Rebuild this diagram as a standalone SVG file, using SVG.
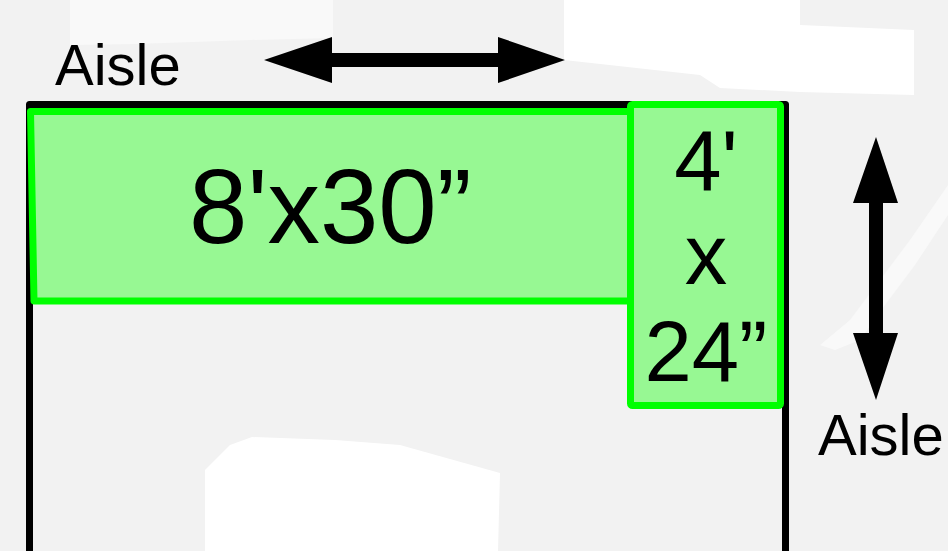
<svg xmlns="http://www.w3.org/2000/svg" width="948" height="551" viewBox="0 0 948 551">
<style>
.bg{fill:#f2f2f2}
.hl{fill:#ffffff}
.hl2{fill:#f9f9f9}
.wall{fill:none;stroke:#000;stroke-width:7;stroke-linejoin:round}
.table{fill:#97f893;stroke:#00ff00;stroke-width:7;stroke-linejoin:round}
.lbl{font-family:"Liberation Sans",Arial,sans-serif;fill:#000}
.arrow{fill:#000}
</style>
<rect class="bg" x="0" y="0" width="948" height="551"/>
<g id="background-patches">
<polygon class="hl2" points="70,0 333,0 333,38 250,40 135,44 70,45"/>
<polygon class="hl" points="564,0 800,0 800,25 914,30 914,95 800,92 720,88 700,75 564,60"/>
<polygon class="hl" points="205,470 230,445 252,437 335,440 400,445 500,473 498,551 205,551"/>
<polygon class="hl2" points="820,345 850,320 880,280 910,240 948,185 948,215 915,265 885,305 860,340 835,350"/>
</g>
<g id="walls">
<path class="wall" d="M29.5,551 V104.5 H785.5 V551"/>
</g>
<g id="table-8x30">
<polygon class="table" points="30.5,111.5 633,111.5 633,301 34,301"/>
<text class="lbl" x="189" y="243" font-size="105">8'x30”</text>
</g>
<g id="table-4x24">
<rect class="table" x="630.5" y="104.5" width="150" height="301" rx="2"/>
<text class="lbl" x="706" y="190" font-size="85" text-anchor="middle">4'</text>
<text class="lbl" x="706" y="284" font-size="85" text-anchor="middle">x</text>
<text class="lbl" x="706" y="381" font-size="85" text-anchor="middle">24”</text>
</g>
<g id="aisle-top">
<text class="lbl" x="55" y="85" font-size="58">Aisle</text>
</g>
<g id="aisle-right">
<text class="lbl" x="818" y="455" font-size="58">Aisle</text>
</g>
<g id="connectors">
<polygon class="arrow" points="264,60 332,37 332,53 498,53 498,37 565,60 498,83 498,67 332,67 332,83"/>
<polygon class="arrow" points="876,137 898,203 883,203 883,333 898,333 876,400 853,333 869,333 869,203 853,203"/>
</g>
</svg>
